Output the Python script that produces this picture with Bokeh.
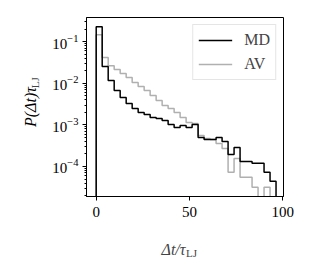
import math
import numpy as np
from bokeh.plotting import figure
from bokeh.models import Range1d, FixedTicker, Label, Legend, LegendItem, LogTicker
from bokeh.embed import file_html
from bokeh.resources import INLINE

# histogram bin edges (Δt / τ_LJ)
bin_edges = list(np.linspace(0.0, 96.4, 31))

# probability densities (0 = empty bin)
md_density = [0.229, 0.0251, 0.0116, 0.00668, 0.00454, 0.00326, 0.00247, 0.00198,
              0.00177, 0.00150, 0.00142, 0.00128, 0.00102, 0.000867, 0.000968,
              0.000867, 0.00102, 0.000499, 0.000447, 0.000447, 0.000499, 0.000400,
              0.000195, 0.000287, 0.000132, 0.000132, 0.000119, 0.000119,
              0.0000722, 0.0000440]
av_density = [0.147, 0.0413, 0.0265, 0.0213, 0.0171, 0.0137, 0.0104, 0.00834,
              0.00668, 0.00507, 0.00385, 0.00292, 0.00247, 0.00198, 0.00150,
              0.00114, 0.00108, 0.000557, 0.000472, 0.000447, 0.000358, 0.000272,
              0.0000722, 0.000156, 0.0000548, 0.0000548, 0.0000315, 0.0,
              0.0000315, 0.0]

series_labels = ["MD", "AV"]
x_ticks = [0, 50, 100]

FLOOR = 1e-9


def step_xy(edges, vals):
    xs = [edges[0]]
    ys = [FLOOR]
    for i, v in enumerate(vals):
        v = v if v > 0 else FLOOR
        xs += [edges[i], edges[i + 1]]
        ys += [v, v]
    xs.append(edges[-1])
    ys.append(FLOOR)
    return xs, ys


SERIF = "Liberation Serif"

p = figure(width=310, height=262, y_axis_type="log",
           x_range=Range1d(-5.2, 100.4), y_range=Range1d(1.9e-5, 0.38),
           output_backend="svg", toolbar_location=None,
           min_border_left=86, min_border_right=27,
           min_border_top=17, min_border_bottom=66)

p.xgrid.visible = False
p.ygrid.visible = False
p.outline_line_color = "black"
p.outline_line_width = 1
p.background_fill_color = "white"
p.border_fill_color = "white"

ax, ay = step_xy(bin_edges, av_density)
r_av = p.line(ax, ay, line_color="#b0b0b0", line_width=1.5)
mx, my = step_xy(bin_edges, md_density)
r_md = p.line(mx, my, line_color="black", line_width=1.5)

# axes
xa = p.xaxis[0]
xa.ticker = FixedTicker(ticks=x_ticks)
ya = p.yaxis[0]
ya.ticker = LogTicker(num_minor_ticks=10)
for a in (xa, ya):
    a.axis_line_color = "black"
    a.axis_line_width = 1
    a.major_tick_in = 0
    a.major_tick_out = 4
    a.minor_tick_in = 0
    a.major_label_text_font = SERIF
    a.major_label_text_font_size = "15px"
    a.major_label_text_color = "black"
    a.major_tick_line_color = "black"
    a.minor_tick_line_color = "black"
xa.minor_tick_out = 0
ya.minor_tick_out = 2
xa.major_label_standoff = 6
ya.major_label_standoff = 4

ya.axis_label = "P(Δt)τ"
ya.axis_label_text_font = SERIF
ya.axis_label_text_font_style = "italic"
ya.axis_label_text_font_size = "16px"
ya.axis_label_text_color = "black"
ya.axis_label_standoff = 10

legend = Legend(items=[LegendItem(label=series_labels[0], renderers=[r_md]),
                       LegendItem(label=series_labels[1], renderers=[r_av])],
                location="top_right", margin=7, padding=5, spacing=4,
                label_height=20, glyph_height=20, glyph_width=34,
                label_standoff=12, label_text_font=SERIF,
                label_text_font_size="16px",
                border_line_color="#cccccc", border_line_width=1,
                background_fill_alpha=0.8)
p.add_layout(legend)

# x-axis label with subscript (side panel, so not clipped to the frame)
p.add_layout(Label(x=35.0, y=1.0e-6, text="Δt/τ", text_font=SERIF,
                   text_font_style="italic", text_font_size="16px",
                   text_align="left", text_baseline="alphabetic"), "below")
p.add_layout(Label(x=48.2, y=8.3e-7, text="LJ", text_font=SERIF,
                   text_font_size="11px", text_align="left",
                   text_baseline="alphabetic"), "below")
# subscript of the y-axis label
p.add_layout(Label(x=-32.6, y=0.0076, text="LJ", text_font=SERIF,
                   text_font_size="11px", text_align="left",
                   text_baseline="alphabetic", angle=math.pi / 2), "left")

open("out.html", "w").write(file_html(p, INLINE))
